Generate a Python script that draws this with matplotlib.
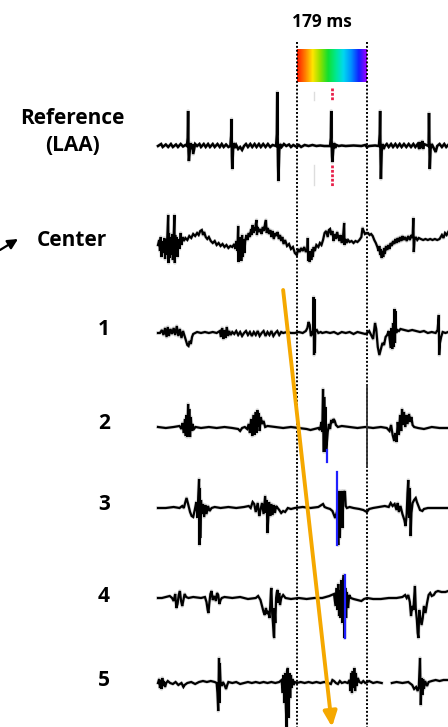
import numpy as np
import matplotlib
matplotlib.use("Agg")
import matplotlib.pyplot as plt
from matplotlib.colors import LinearSegmentedColormap

# electrogram traces: (time ms, deflection a.u.)
ref_laa = [(0, 0), (8, 2), (12, -1), (20, 1.5), (26, -1), (33, 2), (38, -1), (46, 1.5), (51, -1), (58, 2),
           (64, -0.5), (70, 1), (74, 0), (76, 8), (77, 35), (78, -5), (79, -15), (81, -6), (83, 3), (85, -3),
           (88, 2), (90, -8), (92, -4), (95, 2), (100, 0), (106, 2), (110, -1), (117, 2), (122, -1), (128, 2),
           (133, -1), (140, 2), (145, -1), (152, 2), (158, -1), (163, 2), (168, -1), (174, 1.5), (180, -1),
           (185, 0), (187, 10), (188, 27), (189, -10), (190, -23), (192, -3), (194, 3), (197, -2), (200, 1),
           (205, -3), (210, -1), (215, -4), (220, 0), (225, 2), (230, -1), (236, 2), (241, -1), (247, 2),
           (252, -1), (258, 2), (263, -1), (269, 2), (275, -1), (281, 2), (287, -1), (293, 1), (302, 0),
           (304, 12), (305, 54), (306, 10), (307, -20), (308, -35), (310, -5), (312, 2), (316, -1), (322, 2),
           (328, 0), (335, 1.5), (340, -1), (346, 1), (355, -1), (360, 1), (366, -1), (375, 1), (385, 0),
           (395, 1), (405, 0), (415, 0.5), (425, 0), (440, 0), (442, 8), (443, 35), (444, 5), (445, -10),
           (446, -16), (448, -4), (450, 3), (453, -2), (456, 1), (462, 0), (470, 0.5), (480, 0), (500, 0.5),
           (520, 0), (530, 1), (534, -1), (540, 0), (555, 0.5), (565, 0), (567, 12), (568, 35), (569, -10),
           (570, -33), (572, -5), (574, 2), (577, -3), (580, 0), (585, 2), (590, -1), (596, 2), (601, -1),
           (607, 2), (612, -1), (618, 2), (623, -1), (629, 2), (635, -1), (641, 2), (647, -1), (653, 2),
           (658, -1), (664, 2), (668, -3), (670, 4), (672, -2), (676, 5), (678, -3), (680, 2), (692, 0),
           (693, 33), (694, 5), (695, -23), (697, -3), (700, 2), (705, -2), (710, -6), (714, 0), (720, 2),
           (726, -1), (732, 2), (737, -1), (742, 1)]

center = [(0, -2), (3, 3), (5, -8), (7, 6), (9, -14), (11, 2), (13, -10), (16, 5), (18, -16), (20, 4),
          (22, -12), (24, 8), (26, 28), (27, -20), (28, 10), (30, -15), (32, 6), (34, -12), (36, 9), (38, -17),
          (40, 5), (42, 28), (43, -20), (44, 8), (46, -10), (48, 6), (50, -14), (52, 4), (55, -6), (58, 10),
          (60, -2), (63, 6), (66, 2), (70, 5), (75, 3), (80, 7), (85, 5), (90, 9), (95, 7), (100, 10), (104, 8),
          (108, 12), (112, 13), (115, 8), (118, 11), (122, 6), (126, 4), (130, 6), (135, 2), (140, 0), (145, 2),
          (150, -2), (155, 0), (160, -3), (165, -1), (170, -4), (175, -2), (180, -5), (185, -3), (190, -4),
          (195, -1), (198, -6), (200, 2), (203, -8), (205, 17), (206, -19), (207, 5), (209, -15), (211, 6),
          (213, -18), (215, 8), (217, -14), (219, 4), (221, -10), (223, 2), (226, 8), (229, 3), (232, 10),
          (235, 6), (238, 14), (240, 8), (242, 18), (244, 10), (246, 15), (248, 12), (250, 19), (252, 23),
          (253, 8), (255, 16), (258, 11), (262, 14), (265, 9), (268, 16), (271, 12), (274, 20), (276, 23),
          (278, 10), (281, 15), (284, 9), (287, 13), (290, 6), (293, 12), (296, 4), (300, 10), (303, 7),
          (306, 11), (309, 4), (312, 8), (315, 2), (318, 6), (321, -1), (325, 3), (330, -3), (335, -1),
          (340, -6), (345, -4), (350, -10), (355, -12), (358, -6), (362, -9), (366, -5), (370, -8), (374, -4),
          (378, -9), (382, -6), (383, 5), (384, -18), (386, -10), (388, -19), (390, -8), (392, -17), (394, -6),
          (396, -14), (398, -4), (401, -8), (405, -2), (410, -4), (414, 0), (418, -2), (422, 3), (426, 10),
          (430, 12), (434, 6), (437, 13), (440, 14), (443, 8), (446, 12), (449, 2), (452, 9), (455, 4),
          (458, 11), (461, 6), (464, 2), (467, 8), (470, 0), (473, 5), (476, 20), (477, -2), (479, 4), (482, 0),
          (486, 3), (490, 1), (495, 2), (500, 0), (505, 2), (510, 1), (515, 3), (520, 6), (523, 15), (526, 12),
          (529, 9), (533, 10), (537, 10), (541, 8), (545, 9), (549, 7), (553, 3), (557, 0), (561, -4), (564, -8),
          (566, -3), (568, -12), (570, -6), (572, -15), (574, -8), (576, -14), (578, -5), (580, -11), (583, -3),
          (586, -7), (589, -2), (592, -6), (595, 0), (598, -3), (601, 2), (604, -1), (607, 4), (610, 0),
          (613, 5), (616, 1), (619, 6), (622, 2), (625, 7), (628, 3), (632, 6), (636, 2), (640, 7), (644, 3),
          (648, 8), (651, 5), (653, 25), (654, -9), (656, 3), (659, 6), (663, 3), (667, 5), (672, 4), (678, 3),
          (684, 4), (690, 3), (696, 4), (702, 3), (708, 4), (714, 3), (720, 4), (726, 8), (730, 5), (734, 10),
          (738, 8), (742, 11)]

bipole_1 = [(0, 0), (5, 0), (10, 3), (14, -2), (18, 5), (22, -4), (25, 6), (28, -3), (32, 4), (36, -1),
            (40, 5), (44, -2), (48, 7), (52, -3), (56, 4), (60, -5), (64, 2), (68, -3), (72, -8), (75, -12),
            (78, -13), (81, -8), (84, -11), (87, -4), (90, -1), (95, 0), (100, 1), (110, 0), (120, 1), (130, 0),
            (140, 1), (150, 0), (158, 2), (161, -4), (164, 5), (167, -6), (170, 3), (173, -5), (176, 6),
            (179, -3), (182, 2), (186, -2), (190, 1), (195, -1), (200, 2), (205, -2), (210, 1), (215, -3),
            (220, 0), (225, 2), (230, -2), (235, 1), (240, -3), (245, 1), (250, -2), (255, 2), (260, -3),
            (265, 0), (270, 2), (275, -3), (280, 1), (285, -2), (290, 2), (295, -3), (300, 0), (305, 2),
            (310, -2), (315, 1), (320, 0), (330, 1), (340, 0), (350, 0), (360, 1), (370, 0), (378, 2), (382, 5),
            (385, 11), (388, 8), (391, -3), (394, -1), (396, 2), (397, 0), (398, 36), (399, -22), (400, 34),
            (401, -20), (402, 2), (406, 3), (410, 0), (416, 1), (420, 0), (430, 1), (440, 0), (450, 1),
            (460, -1), (470, 1), (480, 0), (490, 1), (500, -1), (510, 1), (520, 0), (530, -1), (535, 0),
            (540, 2), (545, -2), (550, -6), (555, 10), (558, 4), (562, -14), (566, -22), (570, -16), (574, -10),
            (578, -12), (582, -4), (586, -2), (590, 2), (593, -8), (595, -15), (597, 5), (599, -16), (601, 10),
            (603, -14), (605, 24), (606, -10), (607, 22), (609, 0), (612, 3), (616, 2), (620, 4), (630, 3),
            (640, 2), (650, 3), (660, 2), (670, 1), (680, 2), (690, 0), (700, 1), (710, 0), (715, 3), (718, 18),
            (719, -22), (721, -10), (724, -4), (728, 1), (735, 0), (742, 1)]

bipole_2 = [(0, 0), (20, -1), (40, 0), (55, 1), (60, -2), (63, 4), (66, -6), (69, 8), (71, -9), (73, 12),
            (75, -10), (77, 23), (78, -8), (80, 18), (82, -10), (84, 10), (86, -4), (88, 3), (92, -2), (96, 0),
            (110, -1), (130, 0), (150, -1), (170, 0), (190, -1), (205, -2), (210, -4), (215, -1), (222, 0),
            (228, -2), (232, 3), (235, -6), (238, 8), (241, -9), (244, 12), (247, -8), (250, 15), (252, -6),
            (254, 17), (256, 0), (258, 14), (260, -4), (263, 10), (266, 3), (270, 6), (274, 0), (280, 1),
            (300, 0), (320, -1), (340, 0), (360, -1), (380, -2), (390, -3), (400, -2), (410, -1), (414, -3),
            (418, 5), (420, -5), (422, 38), (424, -25), (425, 30), (427, -20), (428, 20), (430, -25),
            (432, -15), (434, -5), (437, 3), (440, -2), (443, 7), (446, 4), (449, 8), (452, 6), (455, 2),
            (460, 0), (470, 1), (490, 0), (510, -1), (530, 0), (550, -1), (570, 0), (585, -1), (592, -4),
            (596, 2), (600, -8), (604, -14), (607, -6), (610, -15), (613, 5), (616, -8), (619, 12), (622, -4),
            (624, 18), (626, 2), (629, 15), (632, 0), (635, 12), (638, 3), (642, 13), (645, 5), (648, 10),
            (651, 2), (655, 0), (665, -1), (680, -2), (700, 0), (720, -1), (742, -1)]

bipole_3 = [(0, 0), (20, 0), (40, 1), (55, 0), (62, 2), (66, 0), (70, 6), (73, 10), (77, 4), (82, -4),
            (86, -8), (90, -9), (94, -2), (98, 6), (101, -10), (103, 12), (105, 29), (106, -37), (107, 20),
            (108, -30), (110, 8), (112, -6), (115, 4), (118, -9), (121, 3), (124, -6), (128, 2), (132, -3),
            (137, 0), (145, 1), (160, 0), (180, 1), (200, 0), (220, 1), (232, 2), (237, 0), (242, 6), (246, 4),
            (250, -4), (255, 5), (259, -8), (262, -2), (266, 5), (270, -6), (274, 12), (276, -5), (278, 8),
            (280, -25), (282, -10), (284, 6), (287, -8), (290, 4), (293, -7), (296, 3), (299, -5), (302, 2),
            (306, 0), (310, -2), (315, -5), (320, -3), (325, -4), (332, 0), (340, -1), (350, 0), (370, 1),
            (390, 0), (410, 1), (418, 3), (422, 4), (426, 1), (432, 0), (440, -1), (446, -3), (450, -7),
            (453, -10), (456, -6), (459, -2), (461, -37), (462, 10), (464, 17), (465, -30), (467, 8), (470, 17),
            (472, -20), (474, 17), (476, 14), (478, 17), (480, 2), (483, 0), (490, 1), (500, 0), (515, -1),
            (525, -2), (534, -4), (540, -1), (550, 0), (565, 1), (580, 2), (590, 1), (595, 5), (600, 2),
            (605, 4), (610, -2), (613, 5), (616, -4), (620, 2), (625, -6), (630, -12), (633, -18), (636, -6),
            (638, 15), (640, 28), (642, -10), (644, 20), (646, -28), (648, -5), (651, 5), (655, 8), (659, 10),
            (662, 6), (666, 2), (670, -2), (676, -3), (680, -1), (690, 0), (710, 0), (742, 0)]

bipole_4 = [(0, 0), (10, 0), (20, 1), (30, 2), (36, 0), (40, -3), (44, 4), (47, -10), (50, -6), (53, 3),
            (56, 7), (59, -3), (62, -8), (65, -2), (68, 4), (72, 1), (78, 0), (90, 1), (110, 0), (120, 1),
            (124, -4), (127, -12), (129, -15), (131, -6), (134, 4), (137, 7), (140, -2), (144, 2), (148, -3),
            (151, 5), (154, 3), (157, -6), (160, -2), (163, 0), (170, 1), (190, 0), (210, 1), (230, -1),
            (250, 0), (256, 2), (262, -2), (266, -8), (270, -14), (273, -17), (276, -10), (279, -16), (282, -13),
            (285, -20), (287, -8), (289, 8), (290, 10), (292, -15), (294, -25), (296, -38), (297, -40),
            (298, -10), (300, -25), (302, 0), (304, 6), (306, 8), (308, -5), (310, 5), (312, -7), (315, 0),
            (320, 3), (326, 0), (340, -1), (360, 0), (380, -1), (400, 0), (420, 0), (438, 2), (444, 3), (450, 4),
            (454, -8), (457, 10), (459, -12), (461, 14), (463, -18), (465, 8), (467, -20), (469, 18), (471, -25),
            (473, 12), (475, 23), (477, -40), (479, 10), (481, -20), (483, 6), (486, -10), (489, 3), (493, 0),
            (500, -1), (510, -2), (520, -3), (527, -1), (535, 0), (550, -1), (570, -1), (590, 0), (610, 0),
            (625, 1), (632, 3), (636, 0), (640, 3), (644, -4), (647, -18), (650, -8), (653, -12), (656, 5),
            (657, 12), (659, -10), (662, -22), (664, -35), (666, -40), (668, -12), (671, -20), (674, -27),
            (677, -20), (680, -8), (684, -15), (688, -5), (692, 3), (696, 5), (700, 2), (705, 3), (710, 6),
            (716, 7), (725, 6), (735, 6), (742, 7)]

nan = float("nan")
bipole_5 = [(0, 0), (3, 4), (5, -5), (7, 3), (9, -6), (11, 5), (13, -3), (15, 2), (18, -4), (21, 0), (25, 2),
            (31, 0), (38, -1), (45, 1), (52, -2), (60, 0), (65, -4), (68, -2), (75, 0), (85, 1), (95, -1),
            (105, 1), (115, 2), (125, 1), (135, 2), (145, 1), (150, 0), (152, -10), (154, -28), (156, 25),
            (157, -20), (158, 20), (160, 0), (163, -3), (166, 1), (170, -2), (174, -6), (177, -2), (180, 1),
            (190, 0), (200, 1), (210, -1), (220, 0), (230, 1), (240, 0), (250, 1), (260, 0), (270, 1), (280, 0),
            (290, 1), (300, 0), (310, 1), (316, 3), (319, -10), (321, 8), (323, -20), (325, 10), (327, -25),
            (329, -45), (330, 12), (332, 15), (334, -35), (336, 10), (338, -15), (340, 8), (342, -5), (344, 4),
            (347, -2), (350, 1), (355, 0), (365, 1), (375, 0), (385, 1), (395, 0), (405, 1), (415, 0), (425, 1),
            (435, 0), (442, -1), (446, 3), (450, 2), (455, 0), (460, -1), (465, 2), (470, 0), (478, 1), (485, 0),
            (490, 3), (492, -8), (494, 10), (496, -10), (498, 12), (500, -5), (502, 15), (504, -8), (506, 10),
            (508, -3), (511, 5), (515, 1), (520, 0), (525, 2), (530, 0), (540, 2), (550, 0), (560, 1), (572, 0),
            (573, nan), (598, 0), (610, 1), (625, 0), (640, 1), (650, -2), (655, -6), (660, -4), (664, -8),
            (667, -3), (670, 25), (672, -22), (674, 5), (676, -12), (678, 4), (680, -6), (683, 2), (688, -3),
            (692, 1), (700, 2), (710, 3), (720, 2), (730, 3), (742, 3)]

channel_labels = ["Reference\n(LAA)", "Center", "1", "2", "3", "4", "5"]
traces = [ref_laa, center, bipole_1, bipole_2, bipole_3, bipole_4, bipole_5]

window_start = 355      # ms
window_len = 179        # ms
lat_ref = 444           # ms, reference annotation (red)
lat_blue = [(431, -23, -35), (457, 36, -37), (477, 23, -40)]   # channels 2, 3, 4
sweep = (320, 445)      # orange arrow start / end time

# layout (vertical in figure pixels)
row_y = [146, 243, 333, 427, 508, 598, 683]
label_y = [132, 240, 329, 423, 505, 596, 681]
label_x = [72, 72, 104, 104, 104, 104, 104]

fig = plt.figure(figsize=(4.48, 7.27), dpi=100)
ax = fig.add_axes([0, 0, 1, 1])
ms_per_px = window_len / 70.0
ax.set_xlim(-158 * ms_per_px, 290 * ms_per_px)
ax.set_ylim(727, 0)
ax.axis("off")

for i, tr in enumerate(traces):
    t = np.array([p[0] for p in tr], dtype=float)
    v = np.array([p[1] for p in tr], dtype=float)
    ax.plot(t, row_y[i] - v, color="#999999", lw=2.6, alpha=0.35, zorder=2)
    ax.plot(t, row_y[i] - v, color="black", lw=1.8 if i == 0 else 1.6, solid_joinstyle="miter", zorder=3)
    fig.text(label_x[i] / 448, 1 - label_y[i] / 727, channel_labels[i], ha="center", va="center",
             fontsize=15, fontweight="bold", family="Open Sans", linespacing=1.35)

# dotted window lines
for tx in (window_start, window_start + window_len):
    ax.plot([tx, tx], [42, 727], color="black", lw=1.4, ls=(0, (1, 1)), zorder=4)
ax.plot([window_start + window_len] * 2, [385, 467], color="#333333", lw=1.3, zorder=4)

# rainbow activation scale
rainbow = LinearSegmentedColormap.from_list(
    "lat", ["#ff1a00", "#ff7a00", "#ffe600", "#8ee000", "#10e030", "#00e890", "#00d8f0",
            "#0090ff", "#1020ff", "#a000ff"])
ax.imshow(np.linspace(0, 1, 200)[None, :], cmap=rainbow, aspect="auto",
          extent=[window_start, window_start + window_len, 82, 49], zorder=2)
ax.text(window_start + window_len / 2 - 25, 22, f"{window_len} ms", ha="center", va="center",
        fontsize=12.5, fontweight="bold", family="Open Sans")

# annotations
ax.plot([lat_ref, lat_ref], [88, 100], color="#e8204a", lw=2, ls=(0, (1, 0.6)), zorder=5)
ax.plot([lat_ref, lat_ref], [165, 186], color="#e8204a", lw=2, ls=(0, (1, 0.6)), zorder=5)
ax.plot([400, 400], [92, 100], color="#dddddd", lw=1, zorder=1)
ax.plot([400, 400], [165, 185], color="#dddddd", lw=1, zorder=1)
for (tb, top, bot), ry in zip(lat_blue, row_y[3:6]):
    ax.plot([tb, tb], [ry - top, ry - bot], color="#2020ff", lw=1.6, zorder=5)

ax.annotate("", xy=(sweep[1], 727), xytext=(sweep[0], 290),
            arrowprops=dict(arrowstyle="-|>,head_length=0.9,head_width=0.4", color="#f5a800", lw=2.8,
                            shrinkA=0, shrinkB=0), zorder=6)
ax.annotate("", xy=(18 * ms_per_px - 158 * ms_per_px, 239), xytext=(-158 * ms_per_px, 250),
            arrowprops=dict(arrowstyle="-|>,head_length=0.6,head_width=0.3", color="black", lw=1.6,
                            shrinkA=0, shrinkB=0))

fig.savefig("out.png", dpi=100, facecolor="white")
